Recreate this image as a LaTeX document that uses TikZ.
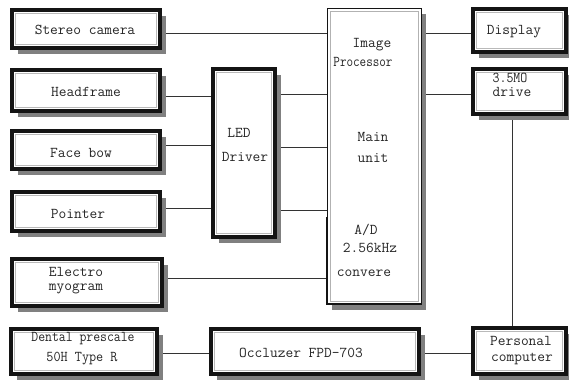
\documentclass[tikz,border=0pt]{standalone}
\usepackage{fontspec}
\usepackage{graphicx}
\usetikzlibrary{shadows,backgrounds,calc}
\begin{document}
\begin{tikzpicture}[x=1pt,y=-1pt,
  blk/.style={draw=black!92, line width=3.2pt, fill=white, inner sep=0pt, outer sep=0pt,
    drop shadow={shadow xshift=5.5pt, shadow yshift=-6pt, fill=gray, opacity=1},
    path picture={\draw[gray!55,line width=1.3pt]
      ([shift={(3.2pt,-3.2pt)}]path picture bounding box.north west) rectangle
      ([shift={(-3.2pt,3.2pt)}]path picture bounding box.south east);}},
  mainbox/.style={draw=black!92, line width=0.9pt, fill=white, inner sep=0pt, outer sep=0pt,
    drop shadow={shadow xshift=5pt, shadow yshift=-6pt, fill=gray, opacity=1},
    path picture={\draw[gray!60,line width=1pt]
      ([shift={(3pt,-3pt)}]path picture bounding box.north west) rectangle
      ([shift={(-3pt,3pt)}]path picture bounding box.south east);}},
  lbl/.style={font=\ttfamily\fontsize{15}{15}\selectfont, inner sep=0pt, text=black!85},
  wire/.style={line width=0.9pt, draw=black!80}]
\useasboundingbox (0,0) rectangle (569,383);

% boxes
\node[blk, minimum width=148pt, minimum height=38pt] (stereo)  at (86,29)    {};
\node[blk, minimum width=148pt, minimum height=41pt] (head)    at (86,90.5)  {};
\node[blk, minimum width=148pt, minimum height=38pt] (face)    at (86,150)   {};
\node[blk, minimum width=148pt, minimum height=39pt] (pointer) at (86,211.5) {};
\node[blk, minimum width=150pt, minimum height=47pt] (emg)     at (87,282.5) {};
\node[blk, minimum width=146pt, minimum height=45pt] (dental)  at (84,351.5) {};
\node[blk, minimum width=208pt, minimum height=45pt] (occl)    at (315,351.5) {};
\node[blk, minimum width=93pt,  minimum height=46pt] (pc)      at (519.5,351) {};
\node[blk, minimum width=93pt,  minimum height=43pt] (display) at (519.5,30.5) {};
\node[blk, minimum width=93pt,  minimum height=45pt] (drive)   at (519.5,91.5) {};
\node[blk, minimum width=62pt,  minimum height=168pt] (led)    at (244,153)  {};
\node[mainbox, minimum width=94pt, minimum height=296pt] (main) at (374,156) {};
\draw[line width=2pt, black!92] ([yshift=87pt]main.south west) -- (main.south west) -- (main.south east);

% labels
\node[lbl] (tstereo)  at (85,30)   {Stereo camera};
\node[lbl] (thead)    at (86,92)   {Headframe};
\node[lbl] (tface)    at (81,153)  {Face bow};
\node[lbl] (tpointer) at (78,214)  {Pointer};
\node[lbl, align=center] (temg) at (76,281) {Electro\\[-1pt]myogram};
\node[lbl] (tdent1)   at (83,339)  {\scalebox{0.89}[1]{Dental prescale}};
\node[lbl] (tdent2)   at (82,359)  {\scalebox{0.92}[1]{50H Type R}};
\node[lbl] (tocc)     at (301,353) {Occluzer FPD-703};
\node[lbl] (tpc1)     at (521,341) {Personal};
\node[lbl] (tpc2)     at (522,359) {computer};
\node[lbl] (tdisp)    at (514,32)  {Display};
\node[lbl] (tdrv1)    at (510,78)  {\scalebox{0.9}[1]{3.5MO}};
\node[lbl] (tdrv2)    at (512,92)  {drive};
\node[lbl] (tled1)    at (239,133) {LED};
\node[lbl] (tled2)    at (245,157) {Driver};
\node[lbl] (timg1)    at (372,45)  {Image};
\node[lbl] (timg2)    at (363,62)  {\scalebox{0.85}[1]{Processor}};
\node[lbl] (tmain1)   at (373,137) {Main};
\node[lbl] (tmain2)   at (373,158) {unit};
\node[lbl] (tad1)     at (366,230) {A/D};
\node[lbl] (tad2)     at (370,248) {2.56kHz};
\node[lbl] (tad3)     at (364,273) {convere};

% connectors
\begin{scope}[on background layer]
\draw[wire] ([yshift=-4pt]stereo.east) -- ([yshift=-4pt]stereo.east -| main.west);
\draw[wire] ([yshift=-5.5pt]head.east) -- ([yshift=-5.5pt]head.east -| led.west);
\draw[wire] ([yshift=5pt]face.east) -- ([yshift=5pt]face.east -| led.west);
\draw[wire] ([yshift=3.5pt]pointer.east) -- ([yshift=3.5pt]pointer.east -| led.west);
\draw[wire] ([yshift=59pt]led.east) -- ([yshift=59pt]led.east -| main.west);
\draw[wire] ([yshift=6pt]led.east) -- ([yshift=6pt]led.east -| main.west);
\draw[wire] ([yshift=-57pt]led.east) -- ([yshift=-57pt]led.east -| main.west);
\draw[wire] ([yshift=4.5pt]emg.east) -- ([yshift=4.5pt]emg.east -| main.west);
\draw[wire] ([yshift=-2.5pt]display.west -| main.east) -- ([yshift=-2.5pt]display.west);
\draw[wire] ([yshift=-2.5pt]drive.west -| main.east) -- ([yshift=-2.5pt]drive.west);
\draw[wire] ([xshift=-7.5pt]drive.south) -- ([xshift=-7.5pt]pc.north);
\draw[wire] ([yshift=-1.5pt]dental.east) -- ([yshift=-1.5pt]dental.east -| occl.west);
\draw[wire] ([yshift=-2pt]occl.east) -- ([yshift=-2pt]occl.east -| pc.west);
\end{scope}
\end{tikzpicture}
\end{document}
